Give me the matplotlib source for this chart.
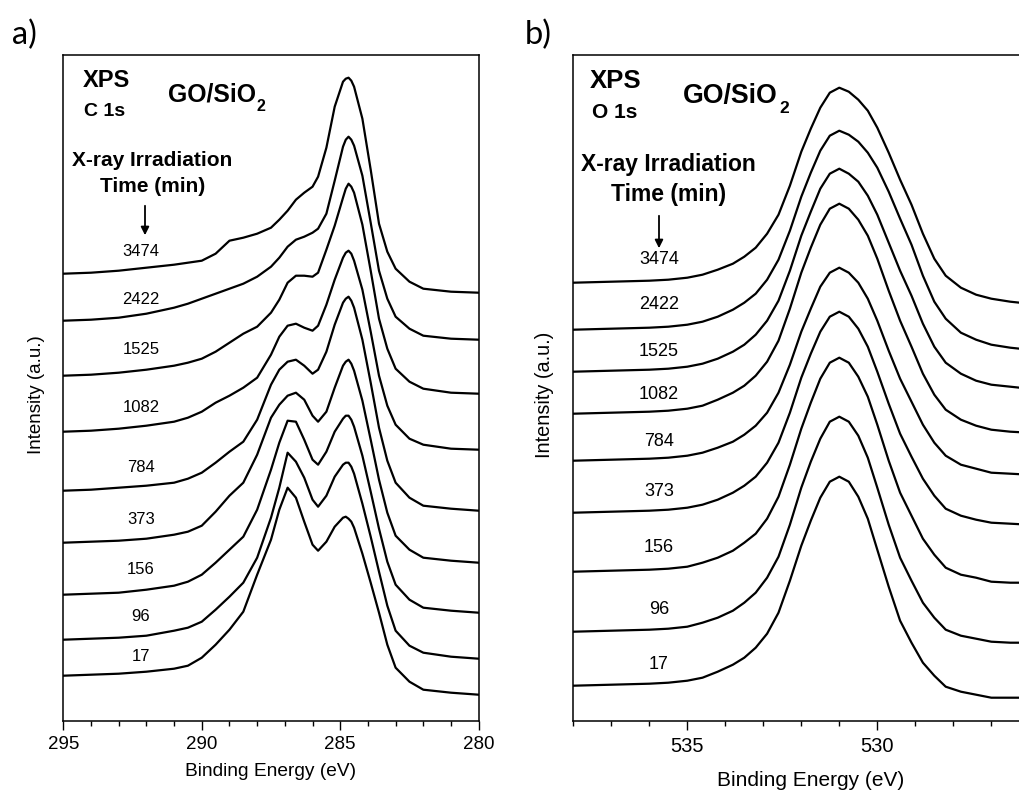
import matplotlib
matplotlib.use("Agg")
import matplotlib.pyplot as plt
from matplotlib.patches import FancyArrowPatch
from matplotlib.ticker import MultipleLocator

# ---------------- data ----------------
times = ["17", "96", "156", "373", "784", "1082", "1525", "2422", "3474"]

# C 1s panel (binding energy in eV, intensity in arbitrary stacked units)
c1s_energy = [295, 294, 293, 292, 291, 290.5, 290, 289.5, 289, 288.5, 288, 287.5, 287.2,
              286.9, 286.6, 286.3, 286.0, 285.8, 285.5, 285.2, 284.9, 284.8, 284.7, 284.6,
              284.5, 284.2, 283.9, 283.6, 283.3, 283.0, 282.5, 282, 281, 280]
c1s_17 = [45, 46, 47, 49, 52, 55, 63, 76, 91, 109, 146, 181, 211, 233, 223, 199, 176, 170, 179,
          194, 203, 204, 202, 199, 193, 167, 138, 108, 76, 53, 39, 31, 28, 26]
c1s_96 = [81, 82, 83, 85, 90, 93, 99, 111, 124, 138, 163, 203, 233, 268, 259, 243, 221, 214, 225,
          244, 256, 258, 258, 254, 247, 217, 184, 149, 115, 90, 75, 68, 64, 62]
c1s_156 = [126, 127, 128, 131, 135, 139, 146, 158, 171, 184, 211, 251, 278, 300, 299, 281, 261, 256,
           269, 289, 302, 305, 305, 301, 294, 265, 229, 192, 159, 136, 121, 113, 110, 108]
c1s_373 = [178, 179, 180, 182, 186, 189, 195, 209, 225, 238, 266, 303, 316, 325, 328, 321, 305, 299,
           309, 333, 355, 359, 361, 357, 350, 320, 281, 241, 208, 185, 171, 163, 160, 158]
c1s_784 = [230, 231, 233, 235, 238, 242, 248, 258, 269, 279, 301, 336, 351, 359, 361, 355, 347, 351,
           369, 396, 418, 422, 424, 420, 413, 381, 338, 293, 260, 238, 223, 215, 212, 210]
c1s_1082 = [289, 290, 292, 295, 299, 303, 309, 318, 325, 333, 343, 366, 384, 395, 397, 393, 390, 395,
            416, 441, 463, 468, 470, 467, 460, 431, 389, 345, 315, 296, 282, 276, 272, 271]
c1s_1525 = [345, 346, 348, 351, 355, 358, 362, 369, 378, 387, 394, 408, 421, 438, 445, 445, 444, 448,
            471, 495, 523, 532, 537, 534, 528, 496, 450, 402, 372, 352, 339, 332, 328, 327]
c1s_2422 = [400, 401, 403, 407, 413, 417, 422, 427, 432, 437, 444, 454, 463, 474, 481, 484, 488, 492,
            507, 540, 574, 581, 584, 581, 575, 545, 498, 450, 422, 404, 392, 385, 382, 381]
c1s_3474 = [447, 448, 450, 453, 456, 458, 460, 467, 480, 483, 487, 493, 501, 510, 521, 528, 534, 544,
            573, 614, 639, 642, 643, 640, 634, 602, 551, 497, 469, 452, 439, 432, 429, 428]
c1s_label_y = [64, 104, 151, 201, 253, 313, 371, 421, 469]

# O 1s panel
o1s_energy = [538, 537, 536, 535.5, 535, 534.6, 534.2, 533.8, 533.5, 533.2, 532.9, 532.6,
              532.3, 532.0, 531.75, 531.5, 531.25, 531.0, 530.75, 530.5, 530.25, 530.0,
              529.7, 529.4, 529.1, 528.8, 528.5, 528.2, 527.8, 527.4, 527.0, 526.5, 526.0, 525.5]
o1s_17 = [35, 36, 37, 38, 40, 43, 49, 56, 63, 73, 87, 108, 140, 175, 200, 223, 239, 244,
          239, 224, 202, 171, 134, 100, 78, 58, 45, 34, 29, 26, 23, 23, 23, 23]
o1s_96 = [89, 90, 91, 92, 94, 98, 103, 110, 118, 128, 143, 164, 196, 233, 259, 282, 299, 304,
          299, 285, 263, 233, 196, 163, 140, 118, 103, 91, 85, 82, 79, 78, 78, 78]
o1s_156 = [149, 150, 151, 152, 154, 158, 163, 170, 178, 187, 202, 224, 256, 292, 318, 342, 358, 363,
           358, 344, 324, 296, 260, 228, 205, 182, 166, 153, 146, 143, 139, 138, 138, 138]
o1s_373 = [208, 209, 210, 211, 213, 216, 221, 228, 235, 244, 258, 278, 308, 343, 367, 389, 404, 409,
           404, 392, 374, 349, 317, 287, 264, 242, 225, 212, 205, 201, 198, 197, 196, 196]
o1s_784 = [260, 261, 262, 263, 265, 268, 273, 279, 286, 295, 308, 328, 356, 389, 412, 434, 448, 453,
           448, 438, 422, 400, 370, 342, 319, 296, 278, 265, 256, 252, 248, 247, 246, 246]
o1s_1082 = [307, 308, 309, 310, 312, 315, 321, 328, 335, 345, 359, 380, 412, 448, 473, 496, 512, 517,
            512, 501, 485, 462, 430, 400, 374, 347, 326, 311, 301, 295, 291, 289, 288, 288]
o1s_1525 = [349, 350, 351, 352, 354, 357, 362, 369, 376, 386, 400, 420, 450, 485, 509, 532, 547, 552,
            547, 539, 525, 506, 478, 450, 425, 397, 374, 358, 347, 340, 336, 334, 332, 332]
o1s_2422 = [391, 392, 393, 394, 396, 399, 404, 411, 418, 427, 441, 461, 490, 524, 548, 570, 585, 590,
            586, 579, 568, 553, 529, 502, 476, 445, 419, 402, 388, 381, 376, 373, 371, 371]
o1s_3474 = [438, 439, 440, 441, 443, 446, 451, 457, 464, 473, 487, 506, 535, 569, 592, 613, 628, 633,
            629, 621, 610, 593, 568, 541, 516, 487, 462, 445, 433, 426, 422, 419, 417, 417]
o1s_label_y = [56, 111, 173, 229, 279, 326, 369, 416, 461]

c1s_series = [c1s_17, c1s_96, c1s_156, c1s_373, c1s_784, c1s_1082, c1s_1525, c1s_2422, c1s_3474]
o1s_series = [o1s_17, o1s_96, o1s_156, o1s_373, o1s_784, o1s_1082, o1s_1525, o1s_2422, o1s_3474]

# ---------------- figure ----------------
W, H = 1019, 794
fig = plt.figure(figsize=(W / 100, H / 100), dpi=100)
plt.rcParams["font.family"] = "Liberation Sans"


def fx(px):
    return px / W


def fy(py):
    return 1 - py / H


def make_axes(left_px, right_px):
    return fig.add_axes([fx(left_px), fy(720.7), (right_px - left_px) / W, (720.7 - 55) / H])


ax_a = make_axes(63.3, 478.7)
ax_b = make_axes(573.3, 1048.3)

for ax in (ax_a, ax_b):
    for s in ax.spines.values():
        s.set_linewidth(1.1)
    ax.set_yticks([])
    ax.set_ylim(0, 665.7)
    ax.tick_params(axis="x", which="major", direction="out", length=6.5, width=1.0)
    ax.tick_params(axis="x", which="minor", direction="out", length=3.8, width=1.0)
    ax.xaxis.set_minor_locator(MultipleLocator(1))

# Panel a
for vals in c1s_series:
    ax_a.plot(c1s_energy, vals, color="black", lw=1.6, solid_joinstyle="round")
ax_a.set_xlim(295, 280)
ax_a.set_xticks([295, 290, 285, 280])
ax_a.tick_params(axis="x", labelsize=13.5, pad=4.5)
ax_a.set_xlabel("Binding Energy (eV)", fontsize=13.8)
ax_a.xaxis.set_label_coords(0.5, -0.064)
ax_a.set_ylabel("Intensity (a.u.)", fontsize=13.5)
ax_a.yaxis.set_label_coords(-0.044, 0.49)
for t, ly in zip(times, c1s_label_y):
    ax_a.text(292.2, ly, t, fontsize=12, ha="center", va="center")

# Panel b
for vals in o1s_series:
    ax_b.plot(o1s_energy, vals, color="black", lw=1.6, solid_joinstyle="round")
ax_b.set_xlim(538, 525.5)
ax_b.set_xticks([535, 530])
ax_b.tick_params(axis="x", labelsize=14.5, pad=5.5)
ax_b.set_xlabel("Binding Energy (eV)", fontsize=15)
ax_b.xaxis.set_label_coords(0.5, -0.076)
ax_b.set_ylabel("Intensity (a.u.)", fontsize=14.3)
ax_b.yaxis.set_label_coords(-0.041, 0.49)
for t, ly in zip(times, o1s_label_y):
    ax_b.text(535.75, ly, t, fontsize=13, ha="center", va="center")

# Annotations panel a
fig.text(fx(24), fy(35), "a)", fontsize=23.5, family="Lato", ha="center", va="center")
fig.text(fx(82.7), fy(87.3), "XPS", fontsize=17, weight="bold", ha="left", va="baseline")
fig.text(fx(84), fy(116), "C 1s", fontsize=14, weight="bold", ha="left", va="baseline")
fig.text(fx(168), fy(101.7), "GO/SiO", fontsize=17.8, weight="bold", ha="left", va="baseline")
fig.text(fx(256.5), fy(111), "2", fontsize=11.5, weight="bold", ha="left", va="baseline")
fig.text(fx(152), fy(160), "X-ray Irradiation", fontsize=15, weight="bold", ha="center", va="center")
fig.text(fx(153), fy(187), "Time (min)", fontsize=15, weight="bold", ha="center", va="center")
fig.add_artist(FancyArrowPatch((fx(145), fy(203)), (fx(145), fy(238)),
                               transform=fig.transFigure, arrowstyle="-|>",
                               mutation_scale=12, color="black", lw=1.3))

# Annotations panel b
fig.text(fx(538), fy(35), "b)", fontsize=23.5, family="Lato", ha="center", va="center")
fig.text(fx(590), fy(88), "XPS", fontsize=18.5, weight="bold", ha="left", va="baseline")
fig.text(fx(591.7), fy(118.3), "O 1s", fontsize=15, weight="bold", ha="left", va="baseline")
fig.text(fx(683), fy(103), "GO/SiO", fontsize=19.2, weight="bold", ha="left", va="baseline")
fig.text(fx(779.5), fy(113), "2", fontsize=12.5, weight="bold", ha="left", va="baseline")
fig.text(fx(668), fy(164), "X-ray Irradiation", fontsize=16.5, weight="bold", ha="center", va="center")
fig.text(fx(669), fy(195), "Time (min)", fontsize=16.5, weight="bold", ha="center", va="center")
fig.add_artist(FancyArrowPatch((fx(659), fy(213)), (fx(659), fy(251)),
                               transform=fig.transFigure, arrowstyle="-|>",
                               mutation_scale=12, color="black", lw=1.3))

fig.savefig("out.png", dpi=100)
